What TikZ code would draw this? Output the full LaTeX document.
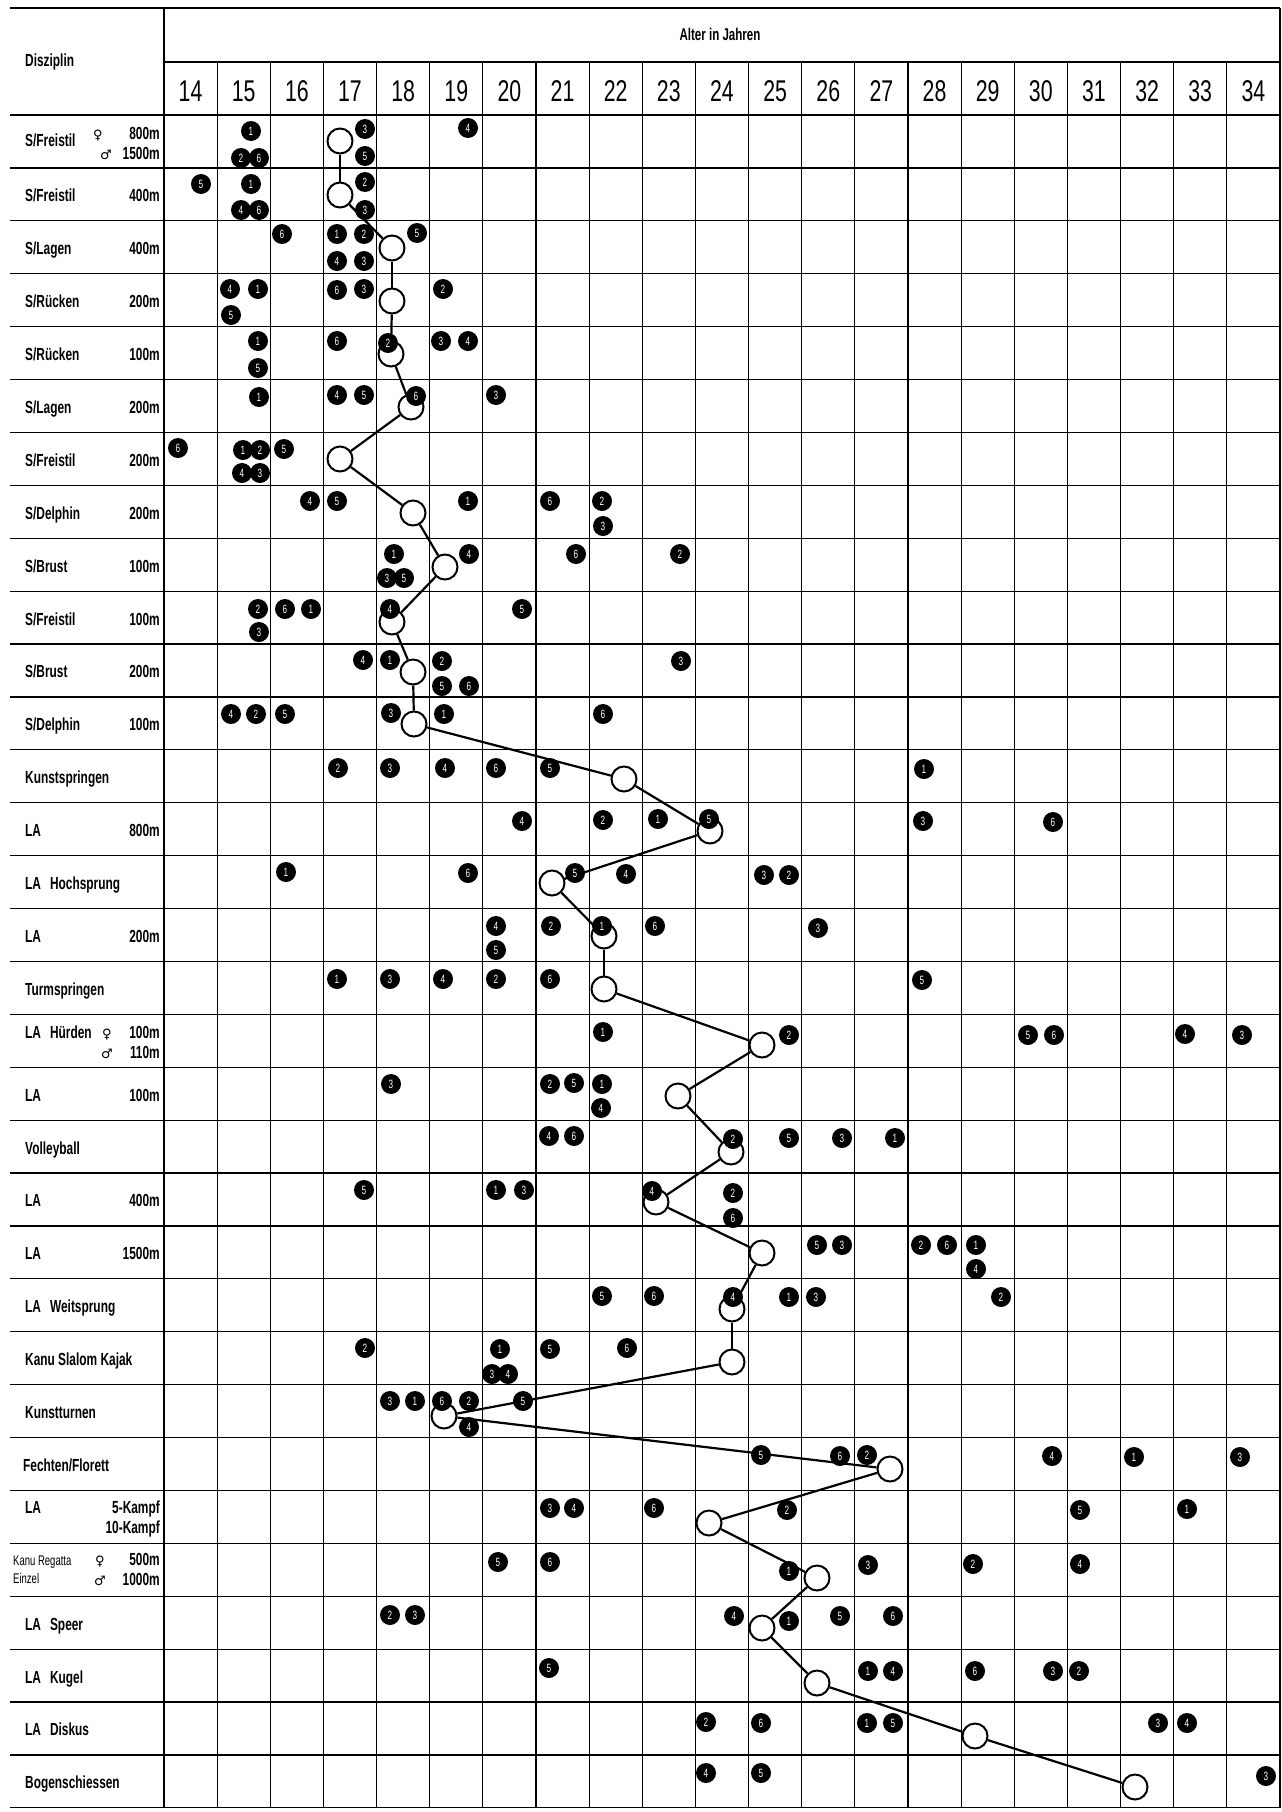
\documentclass[tikz,border=0pt]{standalone}
\usepackage{fontspec}
\setmainfont{Liberation Sans}[FakeStretch=0.68]
\newfontfamily\agefont{Liberation Sans}[FakeStretch=0.71]
\newfontfamily\symfont{DejaVu Sans}

\tikzset{
  gridline/.style={line width=1.2pt},
  ring/.style={circle, draw, fill=white, line width=2pt, minimum size=25pt, inner sep=0pt},
  dot/.style={circle, fill=black, text=white, minimum size=20pt, inner sep=0pt,
    font=\fontsize{12}{12}\selectfont},
  link/.style={line width=2.2pt},
  lab/.style={anchor=base west, inner sep=0pt, font=\fontsize{17.5}{18}\selectfont\bfseries},
  dist/.style={anchor=base east, inner sep=0pt, font=\fontsize{17.5}{18}\selectfont\bfseries},
  sex/.style={anchor=base, inner sep=0pt, font=\fontsize{13}{13}\selectfont\symfont},
  agenum/.style={inner sep=0pt, font=\fontsize{30}{30}\selectfont\agefont},
}

\begin{document}
\begin{tikzpicture}[x=1pt, y=-1pt]
    \useasboundingbox (0,0) rectangle (1282,1812);

    % frame and grid
    \draw[gridline] (10,8) -- (1280,8);
    \draw[gridline] (164,62) -- (1280,62);
    \draw[gridline] (164,8) -- (164,1808);
    \draw[gridline] (1280,8) -- (1280,1808);
    \foreach \k in {0,...,32}
        \draw[gridline] (10,{115+\k*52.9}) -- (1280,{115+\k*52.9});
    \foreach \k in {1,...,20}
        \draw[gridline] ({164+\k*53.14},62) -- ({164+\k*53.14},1808);

    % header
    \node[lab] (disz) at (25,66) {Disziplin};
    \node[anchor=base, inner sep=0pt, font=\fontsize{17}{18}\selectfont\bfseries] (alter) at (720,40) {Alter in Jahren};
    \foreach \a [count=\k from 0] in {14,...,34}
        \node[agenum] (age\a) at ({190.57+\k*53.14},91) {\a};

    % row labels
    \node[lab] (lab1) at (25,146) {S/Freistil};
    \node[sex] (fem1) at (98,139) {♀};
    \node[dist] (dst1) at (160,139) {800m};
    \node[sex] (mal1) at (106,159) {♂};
    \node[dist] (dsb1) at (160,159) {1500m};
    \node[lab] (lab2) at (25,201) {S/Freistil};
    \node[dist] (dst2) at (160,201) {400m};
    \node[lab] (lab3) at (25,254) {S/Lagen};
    \node[dist] (dst3) at (160,254) {400m};
    \node[lab] (lab4) at (25,307) {S/Rücken};
    \node[dist] (dst4) at (160,307) {200m};
    \node[lab] (lab5) at (25,360) {S/Rücken};
    \node[dist] (dst5) at (160,360) {100m};
    \node[lab] (lab6) at (25,413) {S/Lagen};
    \node[dist] (dst6) at (160,413) {200m};
    \node[lab] (lab7) at (25,466) {S/Freistil};
    \node[dist] (dst7) at (160,466) {200m};
    \node[lab] (lab8) at (25,519) {S/Delphin};
    \node[dist] (dst8) at (160,519) {200m};
    \node[lab] (lab9) at (25,572) {S/Brust};
    \node[dist] (dst9) at (160,572) {100m};
    \node[lab] (lab10) at (25,625) {S/Freistil};
    \node[dist] (dst10) at (160,625) {100m};
    \node[lab] (lab11) at (25,677) {S/Brust};
    \node[dist] (dst11) at (160,677) {200m};
    \node[lab] (lab12) at (25,730) {S/Delphin};
    \node[dist] (dst12) at (160,730) {100m};
    \node[lab] (lab13) at (25,783) {Kunstspringen};
    \node[lab] (lab14) at (25,836) {LA};
    \node[dist] (dst14) at (160,836) {800m};
    \node[lab] (lab15) at (25,889) {LA\hspace{9pt}Hochsprung};
    \node[lab] (lab16) at (25,942) {LA};
    \node[dist] (dst16) at (160,942) {200m};
    \node[lab] (lab17) at (25,995) {Turmspringen};
    \node[lab] (lab18) at (25,1038) {LA\hspace{9pt}Hürden};
    \node[sex] (fem18) at (107,1038) {♀};
    \node[dist] (dst18) at (160,1038) {100m};
    \node[sex] (mal18) at (107,1058) {♂};
    \node[dist] (dsb18) at (160,1058) {110m};
    \node[lab] (lab19) at (25,1101) {LA};
    \node[dist] (dst19) at (160,1101) {100m};
    \node[lab] (lab20) at (25,1154) {Volleyball};
    \node[lab] (lab21) at (25,1206) {LA};
    \node[dist] (dst21) at (160,1206) {400m};
    \node[lab] (lab22) at (25,1259) {LA};
    \node[dist] (dst22) at (160,1259) {1500m};
    \node[lab] (lab23) at (25,1312) {LA\hspace{9pt}Weitsprung};
    \node[lab] (lab24) at (25,1365) {Kanu Slalom Kajak};
    \node[lab] (lab25) at (25,1418) {Kunstturnen};
    \node[lab] (lab26) at (23,1471) {Fechten/Florett};
    \node[lab] (lab27) at (25,1513) {LA};
    \node[dist] (dst27) at (160,1513) {5-Kampf};
    \node[dist] (dsb27) at (160,1533) {10-Kampf};
    \node[anchor=base west, inner sep=0pt, font=\fontsize{14}{14}\selectfont] (lab28) at (13,1565) {Kanu Regatta};
    \node[sex] (fem28) at (100,1565) {♀};
    \node[dist] (dst28) at (160,1565) {500m};
    \node[anchor=base west, inner sep=0pt, font=\fontsize{14}{14}\selectfont] (ein28) at (13,1583) {Einzel};
    \node[sex] (mal28) at (100,1585) {♂};
    \node[dist] (dsb28) at (160,1585) {1000m};
    \node[lab] (lab29) at (25,1630) {LA\hspace{9pt}Speer};
    \node[lab] (lab30) at (25,1683) {LA\hspace{9pt}Kugel};
    \node[lab] (lab31) at (25,1735) {LA\hspace{9pt}Diskus};
    \node[lab] (lab32) at (25,1788) {Bogenschiessen};

    % mean age per discipline
    \foreach \x/\y [count=\i] in {340/141, 340/195, 392/248, 392/301, 391/354, 411/407,
        340/459, 413/513, 445/567, 392/622, 413/672, 414/724, 624/779, 710/831,
        552/883, 604/936, 604/989, 762/1045, 678/1096, 731/1152, 656/1202, 762/1253,
        732/1309, 732/1362, 444/1416, 890/1469, 709/1523, 817/1578, 762/1628,
        817/1683, 975/1736, 1135/1787}
        \node[ring] (m\i) at (\x,\y) {};
    \foreach \i [evaluate=\i as \j using {int(\i+1)}] in {1,...,31}
        \draw[link] (m\i) -- (m\j);

    % placings 1-6
    \foreach \x/\y/\n [count=\i] in {
        251/131/1, 241/158/2, 259/158/6, 365/129/3, 365/156/5, 468/128/4,
        201/184/5, 251/184/1, 241/210/4, 259/210/6, 365/182/2, 365/210/3,
        282/234/6, 337/234/1, 364/234/2, 337/261/4, 364/261/3, 417/233/5,
        230/289/4, 258/289/1, 231/315/5, 337/290/6, 364/289/3, 443/289/2,
        258/341/1, 258/368/5, 337/341/6, 388/343/2, 441/341/3, 468/341/4,
        259/397/1, 337/395/4, 364/395/5, 416/396/6, 496/395/3,
        178/448/6, 243/450/1, 260/450/2, 284/449/5, 242/473/4, 260/473/3,
        310/501/4, 337/501/5, 468/501/1, 550/501/6, 602/501/2, 603/526/3,
        394/554/1, 387/578/3, 404/578/5, 469/554/4, 576/554/6, 680/554/2,
        258/609/2, 285/609/6, 311/609/1, 259/632/3, 390/609/4, 522/609/5,
        363/660/4, 390/660/1, 442/661/2, 442/686/5, 469/686/6, 681/661/3,
        231/714/4, 256/714/2, 285/714/5, 391/713/3, 444/714/1, 603/714/6,
        338/768/2, 390/768/3, 445/768/4, 496/768/6, 550/768/5, 924/769/1,
        522/821/4, 603/820/2, 658/819/1, 709/819/5, 923/821/3, 1053/822/6,
        286/872/1, 468/873/6, 575/873/5, 626/874/4, 764/875/3, 789/875/2,
        496/926/4, 496/950/5, 551/926/2, 602/926/1, 655/926/6, 818/928/3,
        337/979/1, 390/979/3, 443/979/4, 496/979/2, 550/979/6, 922/980/5,
        603/1032/1, 789/1035/2, 1028/1035/5, 1054/1035/6, 1185/1034/4, 1242/1035/3,
        391/1084/3, 550/1084/2, 574/1083/5, 602/1084/1, 601/1108/4,
        549/1136/4, 574/1136/6, 733/1139/2, 789/1138/5, 842/1138/3, 895/1138/1,
        364/1190/5, 496/1190/1, 524/1190/3, 652/1191/4, 733/1193/2, 733/1218/6,
        817/1245/5, 842/1245/3, 921/1245/2, 947/1245/6, 976/1245/1, 976/1269/4,
        602/1296/5, 654/1296/6, 733/1297/4, 789/1297/1, 816/1297/3, 1001/1297/2,
        365/1348/2, 500/1349/1, 492/1374/3, 508/1374/4, 550/1349/5, 627/1348/6,
        390/1401/3, 415/1401/1, 442/1401/6, 469/1401/2, 523/1401/5, 469/1427/4,
        761/1455/5, 840/1456/6, 867/1455/2, 1052/1456/4, 1134/1457/1, 1240/1457/3,
        550/1508/3, 574/1508/4, 654/1508/6, 787/1510/2, 1080/1510/5, 1187/1509/1,
        498/1562/5, 550/1562/6, 789/1571/1, 868/1565/3, 973/1564/2, 1080/1564/4,
        390/1615/2, 415/1615/3, 734/1616/4, 789/1621/1, 840/1616/5, 893/1616/6,
        549/1668/5, 868/1671/1, 893/1671/4, 975/1671/6, 1053/1671/3, 1079/1671/2,
        706/1722/2, 761/1723/6, 867/1723/1, 893/1723/5, 1158/1723/3, 1187/1723/4,
        706/1773/4, 761/1773/5, 1266/1776/3}
        \node[dot] (d\i) at (\x,\y) {\n};
\end{tikzpicture}
\end{document}
